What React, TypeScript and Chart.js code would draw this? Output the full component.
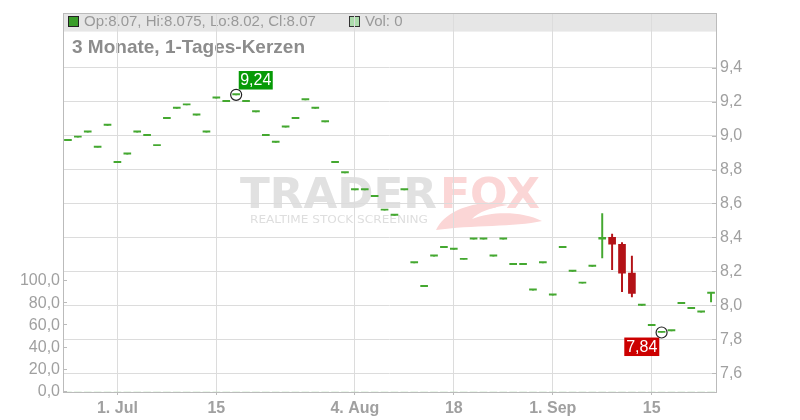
import { useEffect, useRef } from "react";
import { Chart, registerables } from "chart.js";

Chart.register(...registerables);

// ---- data ----
const dates: string[] = [
  "2025-06-24", "2025-06-25", "2025-06-26", "2025-06-27", "2025-06-30",
  "2025-07-01", "2025-07-02", "2025-07-03", "2025-07-04", "2025-07-07",
  "2025-07-08", "2025-07-09", "2025-07-10", "2025-07-11", "2025-07-14",
  "2025-07-15", "2025-07-16", "2025-07-17", "2025-07-18", "2025-07-21",
  "2025-07-22", "2025-07-23", "2025-07-24", "2025-07-25", "2025-07-28",
  "2025-07-29", "2025-07-30", "2025-07-31", "2025-08-01", "2025-08-04",
  "2025-08-05", "2025-08-06", "2025-08-07", "2025-08-08", "2025-08-11",
  "2025-08-12", "2025-08-13", "2025-08-14", "2025-08-15", "2025-08-18",
  "2025-08-19", "2025-08-20", "2025-08-21", "2025-08-22", "2025-08-25",
  "2025-08-26", "2025-08-27", "2025-08-28", "2025-08-29", "2025-09-01",
  "2025-09-02", "2025-09-03", "2025-09-04", "2025-09-05", "2025-09-08",
  "2025-09-09", "2025-09-10", "2025-09-11", "2025-09-12", "2025-09-15",
  "2025-09-16", "2025-09-17", "2025-09-18", "2025-09-19", "2025-09-22",
  "2025-09-23",
];

const opens: number[] = [
  8.97, 8.99, 9.02, 8.93, 9.06, 8.84, 8.89, 9.02, 9.0, 8.94,
  9.1, 9.16, 9.18, 9.12, 9.02, 9.22, 9.2, 9.24, 9.2, 9.14,
  9.0, 8.96, 9.05, 9.1, 9.21, 9.16, 9.08, 8.84, 8.78, 8.68,
  8.68, 8.64, 8.56, 8.53, 8.68, 8.25, 8.11, 8.29, 8.34, 8.33,
  8.27, 8.39, 8.39, 8.29, 8.39, 8.24, 8.24, 8.09, 8.25, 8.06,
  8.34, 8.2, 8.13, 8.23, 8.39, 8.4, 8.36, 8.19, 8.0, 7.88,
  7.84, 7.85, 8.01, 7.98, 7.96, 8.07,
];
const highs: number[] = [
  8.97, 8.99, 9.02, 8.93, 9.06, 8.84, 8.89, 9.02, 9.0, 8.94,
  9.1, 9.16, 9.18, 9.12, 9.02, 9.22, 9.2, 9.24, 9.2, 9.14,
  9.0, 8.96, 9.05, 9.1, 9.21, 9.16, 9.08, 8.84, 8.78, 8.68,
  8.68, 8.64, 8.56, 8.53, 8.68, 8.25, 8.11, 8.29, 8.34, 8.33,
  8.27, 8.39, 8.39, 8.29, 8.39, 8.24, 8.24, 8.09, 8.25, 8.06,
  8.34, 8.2, 8.13, 8.23, 8.54, 8.42, 8.37, 8.29, 8.0, 7.88,
  7.84, 7.85, 8.01, 7.98, 7.96, 8.075,
];
const lows: number[] = [
  8.97, 8.99, 9.02, 8.93, 9.06, 8.84, 8.89, 9.02, 9.0, 8.94,
  9.1, 9.16, 9.18, 9.12, 9.02, 9.22, 9.2, 9.24, 9.2, 9.14,
  9.0, 8.96, 9.05, 9.1, 9.21, 9.16, 9.08, 8.84, 8.78, 8.68,
  8.68, 8.64, 8.56, 8.53, 8.68, 8.25, 8.11, 8.29, 8.34, 8.33,
  8.27, 8.39, 8.39, 8.29, 8.39, 8.24, 8.24, 8.09, 8.25, 8.06,
  8.34, 8.2, 8.13, 8.23, 8.28, 8.21, 8.08, 8.05, 8.0, 7.88,
  7.84, 7.85, 8.01, 7.98, 7.96, 8.02,
];
const closes: number[] = [
  8.97, 8.99, 9.02, 8.93, 9.06, 8.84, 8.89, 9.02, 9.0, 8.94,
  9.1, 9.16, 9.18, 9.12, 9.02, 9.22, 9.2, 9.24, 9.2, 9.14,
  9.0, 8.96, 9.05, 9.1, 9.21, 9.16, 9.08, 8.84, 8.78, 8.68,
  8.68, 8.64, 8.56, 8.53, 8.68, 8.25, 8.11, 8.29, 8.34, 8.33,
  8.27, 8.39, 8.39, 8.29, 8.39, 8.24, 8.24, 8.09, 8.25, 8.06,
  8.34, 8.2, 8.13, 8.23, 8.4, 8.36, 8.19, 8.07, 8.0, 7.88,
  7.84, 7.85, 8.01, 7.98, 7.96, 8.07,
];
const volumes: number[] = [
  0, 0, 0, 0, 0, 0, 0, 0, 0, 0, 0, 0, 0, 0, 0, 0, 0, 0, 0, 0, 0, 0,
  0, 0, 0, 0, 0, 0, 0, 0, 0, 0, 0, 0, 0, 0, 0, 0, 0, 0, 0, 0, 0, 0,
  0, 0, 0, 0, 0, 0, 0, 0, 0, 0, 0, 0, 0, 0, 0, 0, 0, 0, 0, 0, 0, 0,
];

const priceTicks: number[] = [7.6, 7.8, 8.0, 8.2, 8.4, 8.6, 8.8, 9.0, 9.2, 9.4];
const volumeTicks: number[] = [0, 20, 40, 60, 80, 100];
const xTickDates: string[] = ["2025-07-01", "2025-07-15", "2025-08-04", "2025-08-18", "2025-09-01", "2025-09-15"];
const xTickLabels: string[] = ["1. Jul", "15", "4. Aug", "18", "1. Sep", "15"];
const chartTitle = "3 Monate, 1-Tages-Kerzen";

const PRICE_MIN = 7.4897;
const PRICE_MAX = 9.7184;
const VOL_MAX = 340.5;

const GREEN = "#44a830";
const RED = "#b31217";
const FONT = '"Liberation Sans", Arial, Helvetica, sans-serif';

const de = (v: number, d: number) => v.toFixed(d).replace(".", ",");

function fitText(ctx: CanvasRenderingContext2D, text: string, x: number, y: number, w: number) {
  const m = ctx.measureText(text).width;
  ctx.save();
  ctx.translate(x, y);
  ctx.scale(w / m, 1);
  ctx.fillText(text, 0, 0);
  ctx.restore();
}

const backgroundPlugin = {
  id: "bgDecor",
  beforeDraw(chart: any) {
    const ctx: CanvasRenderingContext2D = chart.ctx;
    const a = chart.chartArea;
    ctx.save();
    // header band
    ctx.fillStyle = "#e6e6e6";
    ctx.fillRect(a.left, a.top, a.right - a.left, 18);

    const n = closes.length - 1;
    ctx.lineWidth = 1;
    ctx.fillStyle = "#3a9d2a";
    ctx.fillRect(68.5, 16.5, 10, 10);
    ctx.strokeStyle = "#222";
    ctx.strokeRect(68.5, 16.5, 10, 10);
    ctx.fillStyle = "#999";
    ctx.font = `15px ${FONT}`;
    ctx.textBaseline = "middle";
    ctx.textAlign = "left";
    ctx.fillText(
      `Op:${opens[n]}, Hi:${highs[n]}, Lo:${lows[n]}, Cl:${closes[n]}`,
      84,
      21.5
    );
    ctx.fillStyle = "#acdcac";
    ctx.fillRect(349.5, 16.5, 10, 10);
    ctx.strokeStyle = "#333";
    ctx.strokeRect(349.5, 16.5, 10, 10);
    ctx.fillStyle = "#999";
    ctx.fillText(`Vol: ${volumes[n]}`, 365, 21.5);

    // title
    ctx.fillStyle = "#8c8c8c";
    ctx.font = `bold 19px ${FONT}`;
    ctx.fillText(chartTitle, 72, 47.5);

    // watermark
    ctx.textBaseline = "alphabetic";
    ctx.font = 'bold 43px "DejaVu Sans", sans-serif';
    ctx.fillStyle = "#e1e1e1";
    fitText(ctx, "TRADER", 240, 208, 197);
    ctx.fillStyle = "#fbd6d6";
    fitText(ctx, "FOX", 440, 208, 100);
    ctx.font = '10px "DejaVu Sans", sans-serif';
    ctx.fillStyle = "#dedede";
    fitText(ctx, "REALTIME STOCK SCREENING", 250, 223, 178);
    // fox tail
    ctx.fillStyle = "#fbd6d6";
    ctx.beginPath();
    ctx.moveTo(436, 230);
    ctx.bezierCurveTo(446, 210, 476, 199, 508, 205);
    ctx.bezierCurveTo(492, 207, 478, 212, 472, 219);
    ctx.bezierCurveTo(492, 211, 522, 211, 542, 221);
    ctx.bezierCurveTo(515, 227, 472, 225, 436, 230);
    ctx.closePath();
    ctx.fill();
    ctx.restore();
  },
};

const overlayPlugin = {
  id: "overlayDecor",
  afterDatasetsDraw(chart: any) {
    const ctx: CanvasRenderingContext2D = chart.ctx;
    const xs = chart.scales.x;
    const ys = chart.scales.y;
    const maxIdx = highs.indexOf(Math.max(...highs));
    const minIdx = lows.indexOf(Math.min(...lows));
    ctx.save();
    ctx.font = `16px ${FONT}`;
    ctx.textBaseline = "middle";
    ctx.textAlign = "center";

    const mx = xs.getPixelForValue(maxIdx);
    const my = ys.getPixelForValue(highs[maxIdx]);
    const nx = xs.getPixelForValue(minIdx);
    const ny = ys.getPixelForValue(lows[minIdx]);

    ctx.fillStyle = "#069a06";
    ctx.fillRect(mx + 2.6, my - 23.8, 34, 18.5);
    ctx.fillStyle = "#fff";
    ctx.fillText(de(highs[maxIdx], 2), mx + 2.6 + 17, my - 23.8 + 9.8);
    ctx.fillStyle = "#cc0000";
    ctx.fillRect(nx - 37.3, ny + 5, 35, 18.5);
    ctx.fillStyle = "#fff";
    ctx.fillText(de(lows[minIdx], 2), nx - 37.3 + 17.5, ny + 5 + 9.8);

    ctx.strokeStyle = "#222";
    ctx.lineWidth = 1.2;
    for (const [cx, cy] of [[mx, my], [nx, ny]]) {
      ctx.beginPath();
      ctx.arc(cx, cy, 5.5, 0, Math.PI * 2);
      ctx.stroke();
    }
    ctx.restore();
  },
  afterDraw(chart: any) {
    const ctx: CanvasRenderingContext2D = chart.ctx;
    const a = chart.chartArea;
    ctx.save();
    ctx.strokeStyle = "#bbb";
    ctx.lineWidth = 1;
    ctx.beginPath();
    ctx.moveTo(a.left, Math.round(a.top) - 0.5);
    ctx.lineTo(a.right + 0.5, Math.round(a.top) - 0.5);
    ctx.stroke();
    const ys = chart.scales.y;
    for (const v of priceTicks) {
      const py = Math.round(ys.getPixelForValue(v)) + 0.5;
      ctx.beginPath();
      ctx.moveTo(a.right - 4, py);
      ctx.lineTo(a.right, py);
      ctx.stroke();
    }
    const yv = chart.scales.yVol;
    for (const v of volumeTicks) {
      const py = Math.round(yv.getPixelForValue(v)) - 0.5;
      ctx.beginPath();
      ctx.moveTo(a.left, py);
      ctx.lineTo(a.left + 4, py);
      ctx.stroke();
    }
    ctx.restore();
  },
};

export default function App() {
  const ref = useRef<HTMLCanvasElement | null>(null);

  useEffect(() => {
    if (!ref.current) return;
    const colors = closes.map((c, i) => (c >= opens[i] ? GREEN : RED));
    const chart = new Chart(ref.current, {
      type: "bar",
      data: {
        labels: dates,
        datasets: [
          {
            label: "body",
            data: opens.map((o, i) => [o, closes[i]]) as any,
            backgroundColor: colors,
            barThickness: 7,
            minBarLength: 1.3,
            grouped: false,
            yAxisID: "y",
          } as any,
          {
            label: "wick",
            data: lows.map((l, i) => [l, highs[i]]) as any,
            backgroundColor: colors,
            barThickness: 1.3,
            grouped: false,
            yAxisID: "y",
          } as any,
          {
            label: "Vol",
            data: volumes,
            backgroundColor: "#acdcac",
            barThickness: 7,
            grouped: false,
            yAxisID: "yVol",
          } as any,
        ],
      },
      options: {
        responsive: false,
        animation: false,
        layout: { padding: { top: 12, left: 0, right: 0, bottom: 0 } },
        plugins: {
          legend: { display: false },
          tooltip: { enabled: false },
        },
        scales: {
          x: {
            type: "category",
            offset: true,
            grid: {
              display: true,
              color: "#dcdcdc",
              offset: false,
              drawTicks: true,
              tickLength: 3,
              tickColor: "#bbb",
            },
            border: { display: true, color: "#bbb" },
            ticks: {
              autoSkip: false,
              maxRotation: 0,
              minRotation: 0,
              padding: 4,
              color: "#a0a0a0",
              font: { family: FONT, size: 16, weight: "bold" },
              callback: (v: any) => xTickLabels[xTickDates.indexOf(dates[Number(v)])],
            },
            afterBuildTicks: (axis: any) => {
              axis.ticks = xTickDates.map((d) => ({ value: dates.indexOf(d) }));
            },
            afterFit: (axis: any) => {
              axis.height = 28;
            },
          } as any,
          y: {
            type: "linear",
            position: "right",
            min: PRICE_MIN,
            max: PRICE_MAX,
            grid: { color: "#dcdcdc", drawTicks: false },
            border: { display: true, color: "#bbb" },
            ticks: {
              padding: 4,
              color: "#a0a0a0",
              font: { family: FONT, size: 16 },
              callback: (v: any) => de(Number(v), 1),
            },
            afterBuildTicks: (axis: any) => {
              axis.ticks = priceTicks.map((v) => ({ value: v }));
            },
            afterFit: (axis: any) => {
              axis.width = 84;
            },
          } as any,
          yVol: {
            type: "linear",
            position: "left",
            min: 0,
            max: VOL_MAX,
            grid: { display: false, drawTicks: false },
            border: { display: true, color: "#bbb" },
            ticks: {
              padding: 3,
              color: "#a0a0a0",
              font: { family: FONT, size: 16 },
              callback: (v: any) => de(Number(v), 1),
            },
            afterBuildTicks: (axis: any) => {
              axis.ticks = volumeTicks.map((v) => ({ value: v }));
            },
            afterFit: (axis: any) => {
              axis.width = 63;
            },
          } as any,
        },
      },
      plugins: [backgroundPlugin, overlayPlugin],
    });
    return () => chart.destroy();
  }, []);

  return (
    <div style={{ position: "absolute", left: 0, top: 0, width: 800, height: 420 }}>
      <canvas ref={ref} width={800} height={420} style={{ display: "block", width: 800, height: 420 }} />
    </div>
  );
}
